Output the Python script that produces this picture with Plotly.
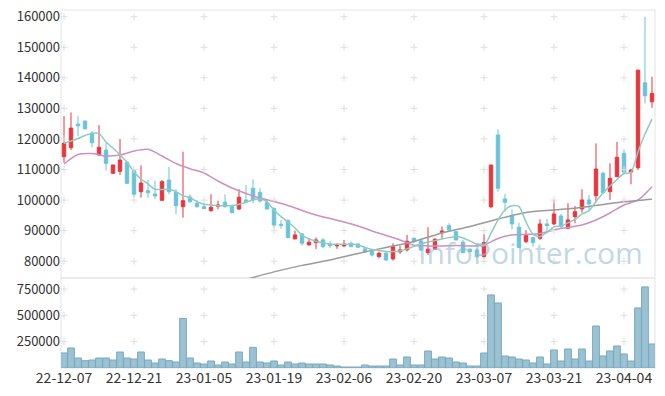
import plotly.graph_objects as go

# ---------------- data ----------------
dates = [
    "22-12-07", "22-12-08", "22-12-09", "22-12-12", "22-12-13", "22-12-14", "22-12-15", "22-12-16",
    "22-12-19", "22-12-20", "22-12-21", "22-12-22", "22-12-23", "22-12-26", "22-12-27", "22-12-28",
    "22-12-29", "23-01-02", "23-01-03", "23-01-04", "23-01-05", "23-01-06", "23-01-09", "23-01-10",
    "23-01-11", "23-01-12", "23-01-13", "23-01-16", "23-01-17", "23-01-18", "23-01-19", "23-01-20",
    "23-01-25", "23-01-26", "23-01-27", "23-01-30", "23-01-31", "23-02-01", "23-02-02", "23-02-03",
    "23-02-06", "23-02-07", "23-02-08", "23-02-09", "23-02-10", "23-02-13", "23-02-14", "23-02-15",
    "23-02-16", "23-02-17", "23-02-20", "23-02-21", "23-02-22", "23-02-23", "23-02-24", "23-02-27",
    "23-02-28", "23-03-02", "23-03-03", "23-03-06", "23-03-07", "23-03-08", "23-03-09", "23-03-10",
    "23-03-13", "23-03-14", "23-03-15", "23-03-16", "23-03-17", "23-03-20", "23-03-21", "23-03-22",
    "23-03-23", "23-03-24", "23-03-27", "23-03-28", "23-03-29", "23-03-30", "23-03-31", "23-04-03",
    "23-04-04", "23-04-05", "23-04-06", "23-04-07", "23-04-10",
]

open_ = [
    114180, 117120, 124870, 125850, 121930, 114740, 116370, 108760, 109410, 112350,
    109610, 102750, 103070, 101990, 99930, 106570, 102550, 97840, 101010, 98950,
    97840, 96540, 97970, 99280, 97840, 97090, 100030, 103860, 102550, 99150,
    97320, 92090, 93270, 87290, 88920, 85330, 86080, 86960, 85560, 85000,
    85000, 85880, 85650, 84020, 83140, 81500, 82610, 80750, 83040, 83690,
    87520, 86630, 82810, 83920, 89350, 91630, 89670, 86210, 83920, 83690,
    81500, 97840, 121280, 100360, 94800, 91110, 86410, 87710, 87520, 92190,
    92190, 94800, 90780, 94580, 97090, 100030, 101440, 108760, 102750, 107650,
    115290, 109180, 110590, 138370, 132160,
]
high = [
    127480, 128690, 127480, 126000, 122580, 124540, 118760, 111500, 119970, 112500,
    110070, 111370, 106570, 106340, 106570, 110920, 103630, 115820, 101900, 100030,
    99150, 101900, 99800, 101900, 98630, 103530, 104930, 106800, 103860, 100260,
    97520, 93500, 93730, 90000, 89150, 87520, 87710, 87520, 86630, 85880,
    86960, 86410, 85700, 84580, 83690, 83140, 83140, 85880, 85000, 88600,
    87700, 87190, 91110, 87520, 91310, 92420, 89700, 86960, 84200, 84200,
    88820, 111500, 123140, 101990, 96990, 92610, 90230, 87900, 93730, 93730,
    100030, 95460, 98950, 98070, 103530, 101670, 118560, 109280, 112030, 119080,
    116600, 110260, 142600, 159930, 140330,
]
low = [
    112220, 116370, 120950, 123200, 117350, 114410, 109610, 108530, 108200, 105300,
    100920, 100780, 100780, 100360, 99800, 101900, 95360, 94250, 99150, 97520,
    97100, 96210, 96990, 97520, 95690, 96760, 99400, 98950, 99150, 97000,
    90780, 90560, 87520, 87200, 85100, 85100, 84020, 84250, 84250, 84020,
    84580, 84580, 84500, 82710, 81500, 80980, 80100, 80200, 82390, 83140,
    85880, 83300, 82060, 83690, 87520, 90000, 86800, 82600, 82810, 80980,
    81180, 97320, 102750, 96210, 90460, 84300, 85880, 84770, 86960, 89670,
    91900, 90780, 90460, 92420, 95880, 96210, 99280, 101900, 100030, 107500,
    108800, 105160, 109840, 131630, 130200,
]
close = [
    118560, 123560, 124310, 123330, 118760, 117260, 112030, 111470, 113100, 105490,
    101900, 105590, 102420, 101340, 106010, 102750, 98170, 99800, 99480, 97840,
    97190, 97650, 98400, 97840, 95880, 100920, 99480, 100030, 99710, 97090,
    91860, 91760, 87710, 88600, 85880, 86210, 86960, 84770, 85100, 85330,
    85560, 84770, 84580, 83040, 82060, 82610, 80420, 84770, 83690, 86540,
    86410, 83690, 83920, 87190, 89900, 90230, 86960, 82810, 83140, 81500,
    86080, 111470, 103860, 99280, 92190, 84440, 88370, 86080, 92190, 91630,
    95460, 91310, 93500, 96210, 100030, 98730, 110160, 102420, 107120, 113990,
    109090, 109840, 142520, 134120, 134900,
]
volume = [
    142600, 190100, 95000, 69400, 76000, 95000, 95000, 76000, 152100, 95000,
    85500, 152100, 76000, 47500, 85500, 69400, 57000, 471500, 95000, 47500,
    38000, 66500, 28500, 57000, 38000, 152100, 57000, 196000, 57000, 47500,
    66500, 28500, 57000, 38000, 47500, 38000, 38000, 38000, 28500, 19000,
    9500, 9500, 9500, 28500, 19000, 19000, 19000, 85500, 28500, 104600,
    28500, 28500, 161600, 85500, 104600, 95000, 57000, 47500, 19000, 19000,
    142600, 693900, 617900, 114100, 104600, 85500, 76000, 47500, 104600, 38000,
    171100, 66500, 180600, 85500, 180600, 66500, 399300, 114100, 161600, 209100,
    133100, 66500, 570400, 770000, 228100,
]
ma5 = [
    118560, 119310, 120130, 121110, 121830, 121830, 118990, 117030, 114740, 112450,
    109180, 106900, 105260, 103530, 103460, 103530, 102750, 101440, 100780, 99480,
    98630, 98400, 98170, 98170, 98170, 98630, 99280, 100030, 100400, 99380,
    96770, 94580, 92840, 90880, 88430, 87290, 86540, 85980, 85650, 85560,
    85560, 85560, 85330, 84510, 83860, 83530, 83140, 83140, 83370, 84020,
    84840, 85650, 86310, 86730, 87290, 87710, 88040, 87610, 86630, 85490,
    85000, 89080, 93500, 96770, 98170, 97910, 92840, 88760, 88040, 89410,
    91210, 91540, 92520, 93660, 95460, 96440, 99540, 102320, 104610, 106730,
    108690, 109020, 115720, 121600, 126500,
]
N = None
ma20 = [
    111800, N, 114900, N, 115230, N, 114410, N, 114740, N,
    116050, N, 116600, N, 114410, N, 111960, N, 110260, N,
    108860, N, 106240, N, 103950, N, 102160, N, 100690, N,
    99540, N, 98240, N, 96600, N, 95130, N, 93990, N,
    92840, N, 91540, N, 89900, N, 88430, N, 86960, N,
    85230, N, 85000, N, 85000, N, 85160, N, 85000, N,
    85330, N, 87450, N, 88590, N, 88760, N, 89080, N,
    90230, N, 91050, N, 91860, N, 93500, N, 95780, N,
    98400, N, 100030, N, 104380,
]
ma60 = [
    N, N, N, N, N, N, N, N, N, N,
    N, N, N, N, N, N, N, N, N, N,
    N, N, N, N, N, N, 74050, N, N, N,
    76500, N, N, N, 78630, N, N, N, 80420, N,
    N, N, 82550, N, N, N, 84510, N, N, N,
    86470, N, N, N, 89250, N, N, N, 91370, N,
    N, N, 93820, N, N, N, 95950, N, N, N,
    96770, N, N, N, 97580, N, N, N, 98890, N,
    N, N, 99870, N, 100260,
]
price_ticks = [80000, 90000, 100000, 110000, 120000, 130000, 140000, 150000, 160000]
volume_ticks = [250000, 500000, 750000]
date_ticks = ["22-12-07", "22-12-21", "23-01-05", "23-01-19", "23-02-06",
              "23-02-20", "23-03-07", "23-03-21", "23-04-04"]
watermark = "InfoPointer.com"

# ---------------- styling ----------------
RED = "#e8363e"
BLUE = "#6bc3da"
FONT = "Noto Sans CJK KR, Noto Sans, sans-serif"
TICKCOL = "#333333"
FRAME = "#e3e3e3"
VOL_SPLIT = 90 / 358

fig = go.Figure()

fig.add_trace(go.Candlestick(
    x=dates, open=open_, high=high, low=low, close=close,
    increasing=dict(line=dict(color=RED, width=1), fillcolor=RED),
    decreasing=dict(line=dict(color=BLUE, width=1), fillcolor=BLUE),
    whiskerwidth=0, xaxis="x", yaxis="y", showlegend=False, hoverinfo="skip",
))

fig.add_trace(go.Scatter(x=dates, y=ma20, mode="lines", connectgaps=True,
                         line=dict(color="#cc90c4", width=1.5, shape="spline", smoothing=0.8),
                         xaxis="x", yaxis="y", showlegend=False, hoverinfo="skip"))
fig.add_trace(go.Scatter(x=dates, y=ma60, mode="lines", connectgaps=True,
                         line=dict(color="#9a9a9a", width=1.5, shape="spline", smoothing=0.8),
                         xaxis="x", yaxis="y", showlegend=False, hoverinfo="skip"))
fig.add_trace(go.Scatter(x=dates, y=ma5, mode="lines",
                         line=dict(color="#8fcac0", width=1.5, shape="spline", smoothing=0.6),
                         xaxis="x", yaxis="y", showlegend=False, hoverinfo="skip"))

fig.add_trace(go.Bar(x=dates, y=volume, marker=dict(color="#9bc2d3",
                     line=dict(color="#79a8be", width=1)),
                     xaxis="x", yaxis="y2", showlegend=False, hoverinfo="skip"))

# small "+" grid marks at tick intersections
gx, gy = [], []
for d in date_ticks:
    for v in price_ticks:
        gx.append(d); gy.append(v)
fig.add_trace(go.Scatter(x=gx, y=gy, mode="markers",
                         marker=dict(symbol="cross-thin", size=5, line=dict(color="#dedede", width=1)),
                         xaxis="x", yaxis="y", showlegend=False, hoverinfo="skip"))
vx, vy = [], []
for d in date_ticks:
    for v in volume_ticks:
        vx.append(d); vy.append(v)
fig.add_trace(go.Scatter(x=vx, y=vy, mode="markers",
                         marker=dict(symbol="cross-thin", size=5, line=dict(color="#dedede", width=1)),
                         xaxis="x", yaxis="y2", showlegend=False, hoverinfo="skip"))

fig.update_layout(
    width=665, height=396,
    margin=dict(l=61, r=10, t=10, b=28, autoexpand=False),
    paper_bgcolor="white", plot_bgcolor="white",
    font=dict(family=FONT, size=12, color=TICKCOL),
    bargap=0.04,
    xaxis=dict(type="category", categoryorder="array", categoryarray=dates,
               range=[-0.43, 84.43], anchor="y2", automargin=False,
               tickmode="array", tickvals=date_ticks, ticktext=date_ticks,
               showgrid=False, zeroline=False, showline=False, ticks="",
               rangeslider=dict(visible=False), fixedrange=True,
               tickfont=dict(size=14, color=TICKCOL)),
    yaxis=dict(domain=[VOL_SPLIT, 1], range=[74500, 162200], automargin=False,
               tickmode="array", tickvals=price_ticks, ticktext=[str(v) for v in price_ticks],
               showgrid=False, zeroline=False, showline=False, ticks="",
               tickfont=dict(size=13, color=TICKCOL)),
    yaxis2=dict(domain=[0, VOL_SPLIT], range=[0, 855000], automargin=False,
                tickmode="array", tickvals=volume_ticks, ticktext=[str(v) for v in volume_ticks],
                showgrid=False, zeroline=False, showline=False, ticks="",
                tickfont=dict(size=13, color=TICKCOL)),
    shapes=[
        dict(type="rect", xref="paper", yref="paper", x0=0, x1=1, y0=VOL_SPLIT, y1=1,
             line=dict(color=FRAME, width=1), layer="below"),
        dict(type="rect", xref="paper", yref="paper", x0=0, x1=1, y0=0, y1=VOL_SPLIT,
             line=dict(color=FRAME, width=1), layer="below"),
    ],
    annotations=[dict(text=watermark, xref="paper", yref="paper",
                      x=(530 - 61) / 594, y=(368 - 252) / 358,
                      showarrow=False, xanchor="center", yanchor="middle",
                      font=dict(family="Open Sans, sans-serif", size=30,
                                color="rgba(150,190,210,0.6)"))],
)

fig.write_html("out.html", config={"displayModeBar": False},
               post_script="document.body.style.margin='0px';")
